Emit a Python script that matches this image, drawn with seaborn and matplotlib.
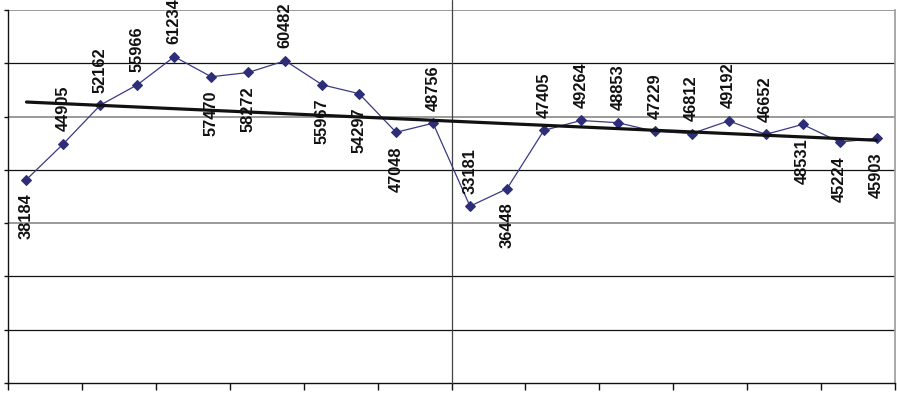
import numpy as np
import pandas as pd
import matplotlib
matplotlib.use("Agg")
import matplotlib.pyplot as plt
import matplotlib.transforms as mtransforms
import seaborn as sns

values = [38184, 44905, 52162, 55966, 61234, 57470, 58272, 60482, 55967, 54297,
          47048, 48756, 33181, 36448, 47405, 49264, 48853, 47229, 46812, 49192,
          46652, 48531, 45224, 45903]
label_side = ["b", "a", "a", "a", "a", "b", "b", "a", "b", "b",
              "b", "a", "a", "b", "a", "a", "a", "a", "a", "a",
              "a", "b", "b", "b"]
y_ticks = [0, 10000, 20000, 30000, 40000, 50000, 60000, 70000]

df = pd.DataFrame({"idx": np.arange(len(values)), "value": values})

sns.set_theme(style="white")
plt.rcParams["font.family"] = ["Liberation Sans", "DejaVu Sans"]

fig = plt.figure(figsize=(8.97, 3.94), dpi=100)
ax = fig.add_axes([8 / 897, 11 / 394, 887 / 897, 373 / 394])

line_col = "#3a3a85"
sns.lineplot(data=df, x="idx", y="value", ax=ax, color=line_col, linewidth=0.9,
             marker="D", markersize=5.5, markerfacecolor="#2e2e78",
             markeredgecolor="#2e2e78", zorder=4)
sns.regplot(data=df, x="idx", y="value", ax=ax, scatter=False, ci=None,
            truncate=True, color="#111111", line_kws={"linewidth": 2.3, "zorder": 5})

ax.set_xlim(-0.5, len(values) - 0.5)
ax.set_ylim(y_ticks[0], y_ticks[-1])

# gridlines
gray_levels = {70000, 50000, 30000}
for yv in y_ticks[1:]:
    if yv in gray_levels:
        ax.axhline(yv, color="#9a9a9a", linewidth=1.4, zorder=1)
    else:
        ax.axhline(yv, color="#111111", linewidth=0.9, zorder=1)

# vertical divider line
trans = mtransforms.blended_transform_factory(ax.transData, fig.transFigure)
ax.plot([11.5, 11.5], [11 / 394, 1.0], transform=trans, color="#444444",
        linewidth=0.9, clip_on=False, zorder=3)

# value labels
for i, (v, s) in enumerate(zip(values, label_side)):
    if s == "a":
        ax.annotate(str(v), (i, v), xytext=(0, 9), textcoords="offset points",
                    rotation=90, ha="center", va="bottom", fontsize=11.8,
                    fontweight="bold", color="#111111", zorder=6)
    else:
        ax.annotate(str(v), (i, v), xytext=(0, -10), textcoords="offset points",
                    rotation=90, ha="center", va="top", fontsize=11.8,
                    fontweight="bold", color="#111111", zorder=6)

ax.set_xticks(np.arange(-0.5, len(values), 2))
ax.set_yticks(y_ticks)
ax.set_xticklabels([])
ax.set_yticklabels([])
ax.set_xlabel("")
ax.set_ylabel("")
ax.tick_params(axis="x", direction="out", length=5, width=1, color="#111111", bottom=True)
ax.tick_params(axis="y", direction="out", length=3, width=1, color="#111111", left=True)

ax.spines["top"].set_visible(False)
ax.spines["right"].set_color("#9a9a9a")
ax.spines["right"].set_linewidth(1.2)
ax.spines["left"].set_color("#111111")
ax.spines["bottom"].set_color("#111111")
ax.spines["left"].set_linewidth(1)
ax.spines["bottom"].set_linewidth(1)

fig.savefig("out.png", dpi=100, facecolor="white")
